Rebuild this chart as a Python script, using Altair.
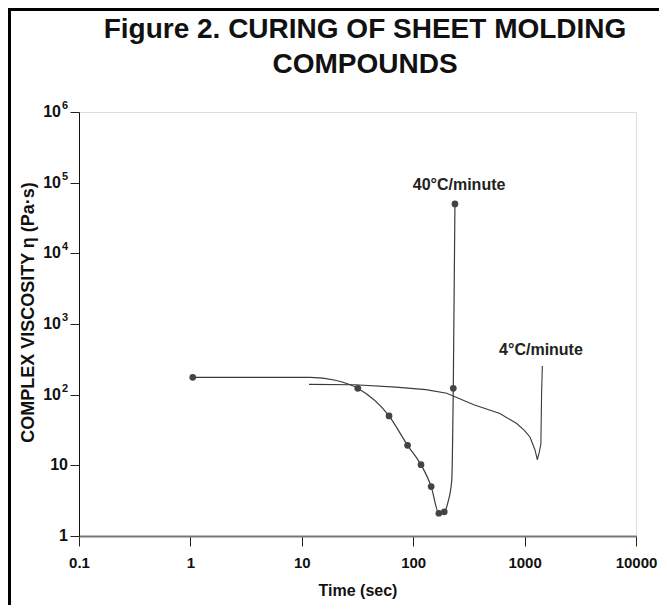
import altair as alt
import pandas as pd

# 40 C/minute curve (line) and its measured points (markers)
t40_line = [1.05, 12, 20, 31.8, 60.7, 89, 117.5, 145, 170, 190, 205, 222, 229, 237]
v40_line = [176, 176, 160, 123, 50, 19.2, 10.2, 5.0, 2.1, 2.2, 3.0, 6.2, 123, 50000]
t40_pts = [1.05, 31.8, 60.7, 89, 117.5, 145, 170, 190, 229, 237]
v40_pts = [176, 123, 50, 19.2, 10.2, 5.0, 2.1, 2.2, 123, 50000]

# 4 C/minute curve
t4 = [11.6, 30, 70, 130, 200, 350, 600, 850, 1000, 1120, 1240, 1300, 1350, 1400, 1420, 1443]
v4 = [140, 138, 128, 118, 105, 72, 54, 39, 31, 25, 16.5, 12, 15, 20, 100, 255]

label_text = ["40°C/minute", "4°C/minute"]
label_t = [258, 1403]
label_v = [92700, 428]

x_ticks = [0.1, 1, 10, 100, 1000, 10000]
y_ticks = [1, 10, 100, 1000, 10000, 100000, 1000000]
y_plain_ticks = [1, 10]
y_plain_labels = ["1", "10"]
y_pow_ticks = [100, 1000, 10000, 100000, 1000000]
y_pow_exps = ["2", "3", "4", "5", "6"]

title_line1 = "Figure 2. CURING OF SHEET MOLDING"
title_line2 = "COMPOUNDS"

FONT = "'Liberation Sans', Arial, sans-serif"
INK = "#3a3a3a"

df40 = pd.DataFrame({"t": t40_line, "v": v40_line})
df40p = pd.DataFrame({"t": t40_pts, "v": v40_pts})
df4 = pd.DataFrame({"t": t4, "v": v4})
dfl = pd.DataFrame({"t": label_t, "v": label_v, "txt": label_text})
dfyp = pd.DataFrame({"v": y_plain_ticks, "txt": y_plain_labels})
dfyw = pd.DataFrame({"v": y_pow_ticks, "exp": y_pow_exps, "base": ["10"] * len(y_pow_ticks)})

xscale = alt.Scale(type="log", domain=[0.1, 10000])
yscale = alt.Scale(type="log", domain=[1, 1000000])

xenc = alt.X("t:Q", scale=xscale, axis=alt.Axis(
    values=x_ticks, title="Time (sec)",
    labelExpr="datum.value < 1 ? '0.1' : format(datum.value, 'd')",
    grid=False, tickSize=10, tickColor="#222", domainColor="#777", domainWidth=2,
    labelFont=FONT, labelFontSize=15, labelFontWeight="bold", labelColor="#111",
    labelPadding=9, labelFlush=False,
    titleFont=FONT, titleFontSize=16, titleFontWeight="bold", titleColor="#111",
    titleY=54, titleBaseline="middle"))
yenc = alt.Y("v:Q", scale=yscale, axis=alt.Axis(
    values=y_ticks, title="COMPLEX VISCOSITY η (Pa·s)", labels=False,
    grid=False, tickSize=9, tickColor="#222", domainColor="#111", domainWidth=1,
    titleFont=FONT, titleFontSize=18, titleFontWeight="bold", titleColor="#111",
    titleX=-51, titleY=200, titleBaseline="middle"))

line40 = alt.Chart(df40).mark_line(color=INK, strokeWidth=1.2, interpolate="monotone").encode(
    x=xenc, y=yenc)
pts40 = alt.Chart(df40p).mark_circle(color="#444", size=45, opacity=1).encode(
    x="t:Q", y="v:Q")
line4 = alt.Chart(df4).mark_line(color=INK, strokeWidth=1.1).encode(x="t:Q", y="v:Q")
labels = alt.Chart(dfl).mark_text(font=FONT, fontSize=16, fontWeight="bold", color="#222",
                                  baseline="middle").encode(x="t:Q", y="v:Q", text="txt:N")

# y tick labels with real superscripts
ylab_plain = alt.Chart(dfyp).mark_text(font=FONT, fontSize=16, fontWeight="bold", color="#111",
                                       align="right", baseline="middle").encode(
    y="v:Q", x=alt.value(-11), text="txt:N")
ylab_base = alt.Chart(dfyw).mark_text(font=FONT, fontSize=16, fontWeight="bold", color="#111",
                                      align="right", baseline="middle").encode(
    y="v:Q", x=alt.value(-18), text="base:N")
ylab_exp = alt.Chart(dfyw).mark_text(font=FONT, fontSize=11, fontWeight="bold", color="#111",
                                     align="right", baseline="middle", dy=-6).encode(
    y="v:Q", x=alt.value(-11), text="exp:N")

title1 = alt.Chart(pd.DataFrame({"txt": [title_line1]})).mark_text(
    font=FONT, fontSize=28, fontWeight="bold", color="#111", baseline="middle", align="center"
).encode(text="txt:N", x=alt.value(286), y=alt.value(-82))
title2 = alt.Chart(pd.DataFrame({"txt": [title_line2]})).mark_text(
    font=FONT, fontSize=28, fontWeight="bold", color="#111", baseline="middle", align="center"
).encode(text="txt:N", x=alt.value(286), y=alt.value(-47))

frame_left = alt.Chart(pd.DataFrame({"a": [0]})).mark_rule(color="#000", strokeWidth=3).encode(
    x=alt.value(-69.5), y=alt.value(-104), y2=alt.value(501))
frame_top = alt.Chart(pd.DataFrame({"a": [0]})).mark_rule(color="#000", strokeWidth=3).encode(
    x=alt.value(-71), x2=alt.value(580), y=alt.value(-102.5))

chart = alt.layer(line4, line40, pts40, labels, ylab_plain, ylab_base, ylab_exp,
                  title1, title2, frame_left, frame_top).properties(
    width=557, height=424,
    autosize=alt.AutoSizeParams(type="none"),
    padding={"left": 71, "top": 104, "right": 23, "bottom": 69},
).configure_view(stroke="#666", strokeWidth=1.5).configure(background="white")

chart.save("out.html", embed_options={"renderer": "svg", "actions": False})
